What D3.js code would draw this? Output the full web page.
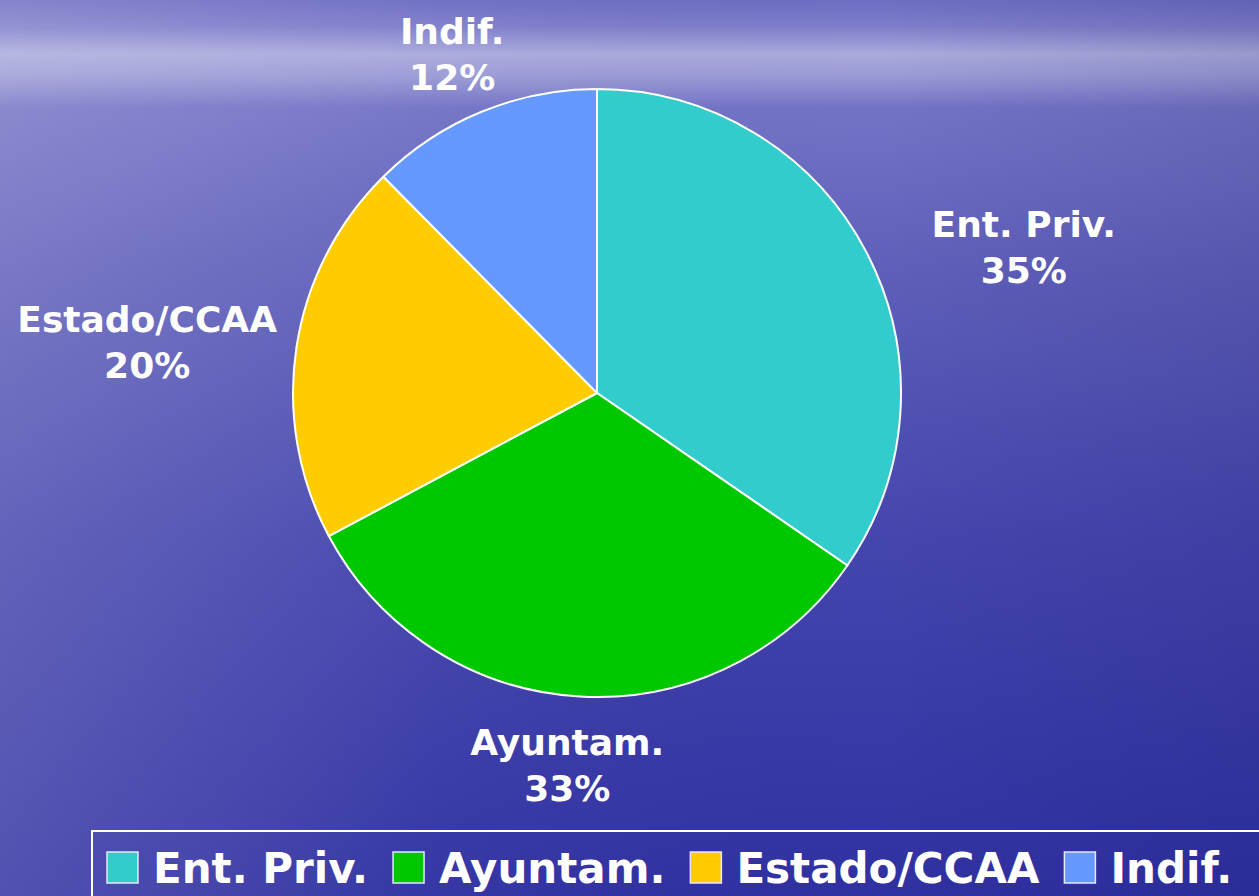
<!DOCTYPE html>
<html>
<head>
<meta charset="utf-8">
<script src="https://cdn.jsdelivr.net/npm/d3@7"></script>
<style>
  html, body { margin: 0; padding: 0; overflow: hidden; }
  svg { display: block; }
  text { font-family: "DejaVu Sans", Verdana, sans-serif; font-weight: bold; fill: #fff; }
</style>
</head>
<body>
<svg id="chart"></svg>
<script>
// data
const categories = ['Ent. Priv.', 'Ayuntam.', 'Estado/CCAA', 'Indif.'];
const values = [34.6, 32.6, 20.4, 12.4];
const colors = ['#33CCCC', '#00C800', '#FFCC00', '#6699FF'];

const width = 1259, height = 896;
const cx = 597, cy = 393, radius = 304;

// small hand nudges for the labels (the original app moved them off the mid angle)
const labelShift = [[24, 26], [-4, 3], [0, 5], [28, 3]];

const svg = d3.select('#chart')
  .attr('width', width)
  .attr('height', height);

const defs = svg.append('defs');

// sea-like background: light band near the top, deep blue towards the bottom
const bg = defs.append('linearGradient')
  .attr('id', 'bgV').attr('x1', 0).attr('y1', 0).attr('x2', 0).attr('y2', 1);
[[0, '#6d6dc3'], [0.03, '#7e7ecb'], [0.06, '#aaaadd'], [0.085, '#9a9ad6'],
 [0.12, '#7373c6'], [0.3, '#5f5fba'], [0.6, '#4545ae'], [1, '#3030a2']]
  .forEach(([o, c]) => bg.append('stop').attr('offset', o).attr('stop-color', c));

const side = defs.append('linearGradient')
  .attr('id', 'bgH').attr('x1', 0).attr('y1', 0).attr('x2', 1).attr('y2', 0);
[[0, '#ffffff', 0.16], [0.35, '#ffffff', 0.03], [0.7, '#000040', 0.0], [1, '#000040', 0.1]]
  .forEach(([o, c, a]) => side.append('stop').attr('offset', o)
    .attr('stop-color', c).attr('stop-opacity', a));

svg.append('rect').attr('width', width).attr('height', height).attr('fill', 'url(#bgV)');
svg.append('rect').attr('width', width).attr('height', height).attr('fill', 'url(#bgH)');

// pie
const pie = d3.pie().sort(null).value(d => d.value);
const arcs = pie(categories.map((c, i) => ({ name: c, value: values[i], color: colors[i], i: i })));
const arc = d3.arc().innerRadius(0).outerRadius(radius);

const g = svg.append('g').attr('transform', `translate(${cx},${cy})`);

g.selectAll('path')
  .data(arcs)
  .enter().append('path')
    .attr('d', arc)
    .attr('fill', d => d.data.color)
    .attr('stroke', '#fff')
    .attr('stroke-width', 2)
    .attr('stroke-linejoin', 'round');

// labels sit on an ellipse around the pie, at each slice's middle angle
const total = d3.sum(values);
const labelRx = 455, labelRy = 370;
const labelSize = 36, lineGap = 46;

const labels = g.selectAll('text.label')
  .data(arcs)
  .enter().append('text')
    .attr('class', 'label')
    .attr('text-anchor', 'middle')
    .style('font-size', labelSize + 'px')
    .attr('transform', d => {
      const a = (d.startAngle + d.endAngle) / 2;
      const s = labelShift[d.data.i];
      const x = labelRx * Math.sin(a) + s[0];
      const y = -labelRy * Math.cos(a) + s[1];
      return `translate(${x},${y})`;
    });

labels.append('tspan')
  .attr('x', 0)
  .attr('y', -10)
  .text(d => d.data.name);

labels.append('tspan')
  .attr('x', 0)
  .attr('y', -10 + lineGap)
  .text(d => Math.round(d.data.value / total * 100) + '%');

// legend
const legend = svg.append('g');
legend.append('rect')
  .attr('x', 92).attr('y', 831)
  .attr('width', width).attr('height', 120)
  .attr('fill', 'none')
  .attr('stroke', '#fff')
  .attr('stroke-width', 2);

let lx = 107;
const sw = 31, legendBase = 883;
categories.forEach((c, i) => {
  legend.append('rect')
    .attr('x', lx).attr('y', legendBase - sw)
    .attr('width', sw).attr('height', sw)
    .attr('fill', colors[i])
    .attr('stroke', '#e8e8f8')
    .attr('stroke-width', 1.5);
  const t = legend.append('text')
    .attr('x', lx + sw + 15)
    .attr('y', legendBase)
    .style('font-size', '42px')
    .text(c);
  lx = lx + sw + 15 + t.node().getComputedTextLength() + 25;
});
</script>
</body>
</html>
